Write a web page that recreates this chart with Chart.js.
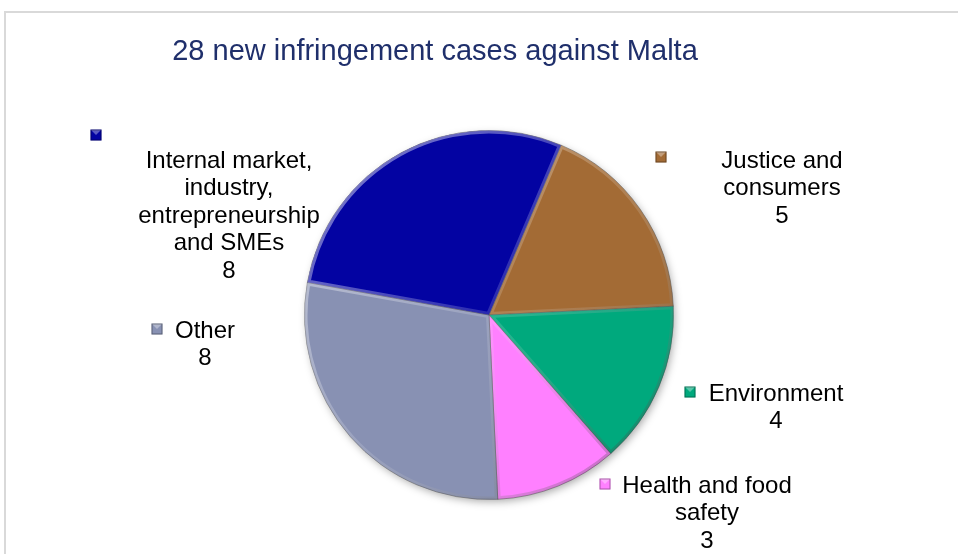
<!DOCTYPE html>
<html>
<head>
<meta charset="utf-8">
<script src="https://cdn.jsdelivr.net/npm/chart.js@4/dist/chart.umd.min.js"></script>
<style>
    body { margin: 0; background: #ffffff; }
    #wrap { width: 958px; height: 554px; position: relative; }
</style>
</head>
<body>
<div id="wrap"><canvas id="graficoInfracoesMalta"></canvas></div>
<script>
// data (clockwise, starting at the top right)
const categorias = [
    ['Justice and', 'consumers'],
    ['Environment'],
    ['Health and food', 'safety'],
    ['Other'],
    ['Internal market,', 'industry,', 'entrepreneurship', 'and SMEs']
]
const casos = [5, 4, 3, 8, 8]
const titulo = '28 new infringement cases against Malta'

const cores = ['#a36b35', '#00a97d', '#ff80ff', '#8891b3', '#0303a2']

// where each data label sits (text centre, first line y, key square)
const posicaoRotulos = [
    { x: 782, y: 161, kx: 661, ky: 157 },
    { x: 776, y: 394, kx: 690, ky: 392 },
    { x: 707, y: 486, kx: 605, ky: 484 },
    { x: 205, y: 331, kx: 157, ky: 329 },
    { x: 229, y: 161, kx: 96, ky: 135 }
]

const moldura = {
    id: 'moldura',
    beforeDraw(chart) {
        const ctx = chart.ctx
        ctx.save()
        ctx.strokeStyle = '#d9d9d9'
        ctx.lineWidth = 2
        ctx.beginPath()
        ctx.moveTo(5, 600)
        ctx.lineTo(5, 12)
        ctx.lineTo(1000, 12)
        ctx.stroke()
        ctx.restore()
    },
    beforeDatasetsDraw(chart) {
        // soft shadow under the pie
        const arc = chart.getDatasetMeta(0).data[0]
        if (!arc) return
        const p = arc.getProps(['x', 'y', 'outerRadius'], true)
        const ctx = chart.ctx
        ctx.save()
        ctx.shadowColor = 'rgba(0,0,0,0.35)'
        ctx.shadowBlur = 8
        ctx.shadowOffsetX = 2
        ctx.shadowOffsetY = 3
        ctx.fillStyle = '#ffffff'
        ctx.beginPath()
        ctx.arc(p.x, p.y, p.outerRadius - 1, 0, Math.PI * 2)
        ctx.fill()
        ctx.restore()
    }
}

// light / dark rim on each slice, like the bevelled Excel look
const bisel = {
    id: 'bisel',
    afterDatasetsDraw(chart) {
        const ctx = chart.ctx
        chart.getDatasetMeta(0).data.forEach(function (arc) {
            const p = arc.getProps(['x', 'y', 'startAngle', 'endAngle', 'outerRadius'], true)
            ctx.save()
            ctx.beginPath()
            ctx.moveTo(p.x, p.y)
            ctx.arc(p.x, p.y, p.outerRadius, p.startAngle, p.endAngle)
            ctx.closePath()
            ctx.clip()
            const g = ctx.createLinearGradient(p.x - p.outerRadius, p.y - p.outerRadius, p.x + p.outerRadius, p.y + p.outerRadius)
            g.addColorStop(0, 'rgba(255,255,255,0.55)')
            g.addColorStop(0.5, 'rgba(255,255,255,0.15)')
            g.addColorStop(1, 'rgba(0,0,0,0.35)')
            ctx.strokeStyle = g
            ctx.lineWidth = 6
            ctx.lineJoin = 'round'
            ctx.stroke()
            ctx.restore()
        })
    }
}

const rotulos = {
    id: 'rotulos',
    afterDraw(chart) {
        const ctx = chart.ctx
        ctx.save()
        ctx.fillStyle = '#1f2f6b'
        ctx.font = '29px "Liberation Sans", Arial, sans-serif'
        ctx.textAlign = 'center'
        ctx.textBaseline = 'middle'
        ctx.fillText(titulo, 435, 52)

        ctx.font = '24px "Liberation Sans", Arial, sans-serif'
        for (let i = 0; i < categorias.length; i++) {
            const pos = posicaoRotulos[i]
            const linhas = categorias[i].concat([String(casos[i])])
            ctx.fillStyle = '#000000'
            for (let j = 0; j < linhas.length; j++) {
                ctx.fillText(linhas[j], pos.x, pos.y + j * 27.5)
            }
            // key square
            const s = 11
            const x0 = pos.kx - s / 2, y0 = pos.ky - s / 2
            ctx.fillStyle = cores[i]
            ctx.fillRect(x0, y0, s, s)
            ctx.fillStyle = 'rgba(255,255,255,0.35)'
            ctx.beginPath()
            ctx.moveTo(x0, y0)
            ctx.lineTo(x0 + s, y0)
            ctx.lineTo(x0 + s / 2, y0 + s / 2)
            ctx.closePath()
            ctx.fill()
            ctx.strokeStyle = 'rgba(0,0,0,0.35)'
            ctx.lineWidth = 1
            ctx.strokeRect(x0 + 0.5, y0 + 0.5, s - 1, s - 1)
        }
        ctx.restore()
    }
}

const graficoInfracoesMalta = new Chart(document.getElementById('graficoInfracoesMalta'), {
    type: 'pie',
    data: {
        labels: categorias,
        datasets: [{
            data: casos,
            backgroundColor: cores,
            borderColor: 'rgba(60,60,60,0.45)',
            borderWidth: 1
        }]
    },
    options: {
        responsive: true,
        maintainAspectRatio: false,
        animation: false,
        rotation: 23,
        layout: {
            padding: { left: 40, right: 20, top: 130, bottom: 54 }
        },
        plugins: {
            legend: { display: false },
            title: { display: false },
            tooltip: { enabled: false }
        }
    },
    plugins: [moldura, bisel, rotulos]
})
</script>
</body>
</html>
